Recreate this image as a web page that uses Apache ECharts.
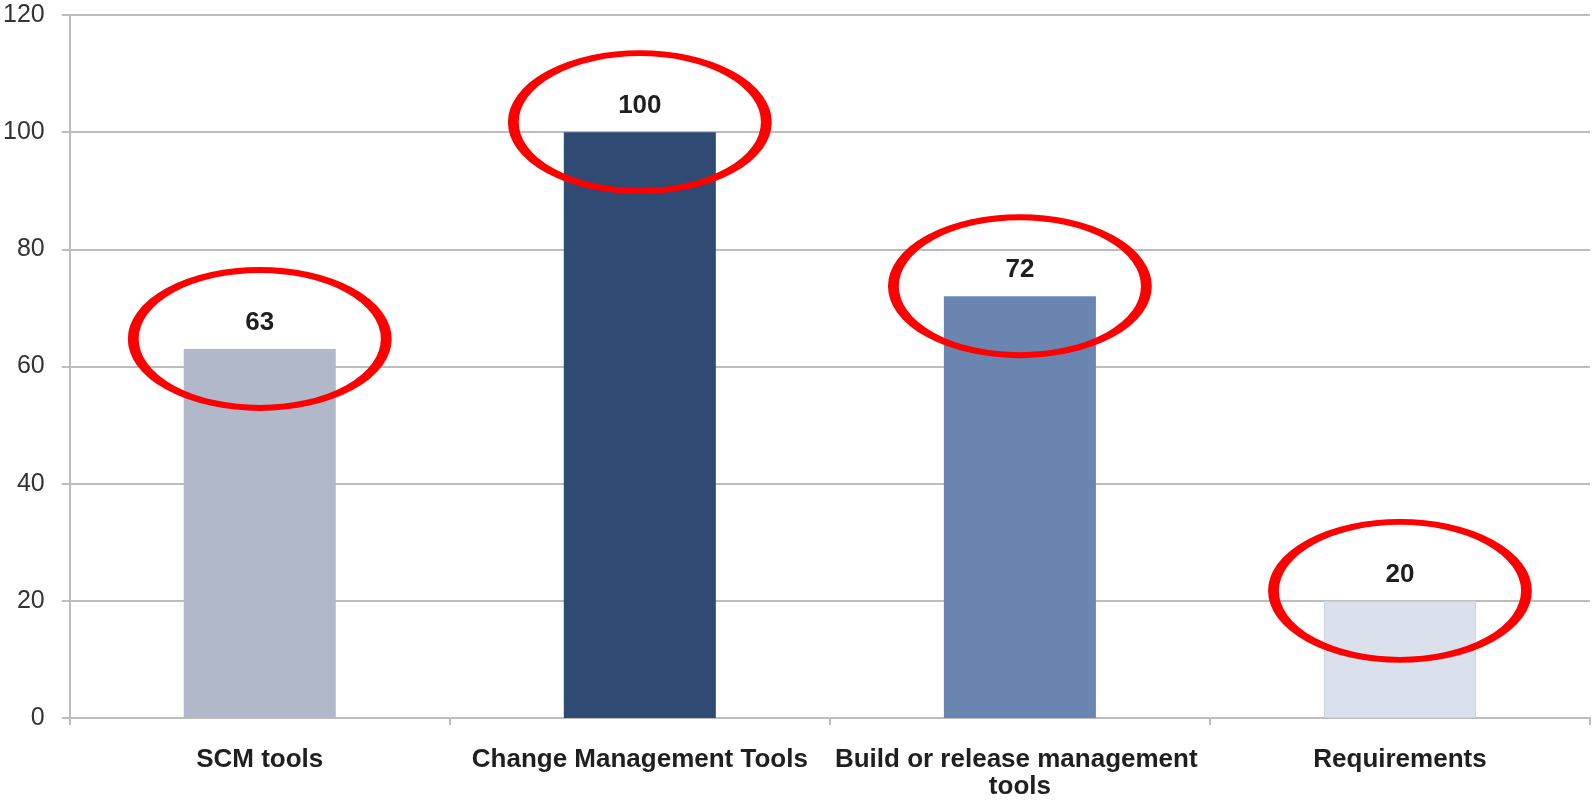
<!DOCTYPE html>
<html>
<head>
<meta charset="utf-8">
<script src="https://cdn.jsdelivr.net/npm/echarts@6/dist/echarts.min.js"></script>
<style>
  html, body { margin: 0; padding: 0; background: #fff; }
  #main { width: 1595px; height: 800px; }
</style>
</head>
<body>
<div id="main"></div>
<script>
// chart data
var categories = ['SCM tools', 'Change Management Tools', 'Build or release management tools', 'Requirements'];
var values = [63, 100, 72, 20];
var barColors = ['#B0B8C9', '#2F4A73', '#6A86B0', '#DAE0EC'];
var yTicks = [0, 20, 40, 60, 80, 100, 120];

var chart = echarts.init(document.getElementById('main'));

var barData = values.map(function (v, i) {
  return {
    value: v,
    itemStyle: {
      color: barColors[i],
      borderColor: i === 3 ? '#C9D3E3' : barColors[i],
      borderWidth: i === 3 ? 1 : 0
    }
  };
});

var option = {
  animation: false,
  textStyle: { fontFamily: '"Liberation Sans", Arial, sans-serif' },
  grid: { left: 69, right: 5, top: 15, bottom: 81 },
  xAxis: {
    type: 'category',
    data: categories,
    boundaryGap: true,
    axisLine: { lineStyle: { color: '#BDBDBD', width: 2 } },
    axisTick: { show: true, length: 7, lineStyle: { color: '#BDBDBD', width: 2 } },
    axisLabel: {
      interval: 0,
      margin: 28,
      fontSize: 26,
      fontWeight: 'bold',
      color: '#1F1F1F',
      lineHeight: 27,
      width: 378,
      overflow: 'break'
    }
  },
  yAxis: {
    type: 'value',
    min: yTicks[0],
    max: yTicks[yTicks.length - 1],
    interval: 20,
    axisLine: { show: true, lineStyle: { color: '#BDBDBD', width: 2 } },
    axisTick: { show: true, length: 8, lineStyle: { color: '#BDBDBD', width: 2 } },
    splitLine: { lineStyle: { color: '#BDBDBD', width: 2 } },
    axisLabel: { margin: 25, fontSize: 25, color: '#333333' }
  },
  series: [
    {
      type: 'bar',
      data: barData,
      barWidth: '40%',
      label: {
        show: true,
        position: 'top',
        distance: 13,
        fontSize: 26,
        fontWeight: 'bold',
        color: '#1F1F1F'
      }
    },
    {
      // red rings drawn round each value
      type: 'scatter',
      data: values,
      symbol: 'circle',
      symbolSize: [253, 138],
      symbolOffset: [0, -10],
      z: 5,
      silent: true,
      itemStyle: { color: 'rgba(0,0,0,0)', borderColor: '#FF0000', borderWidth: 8, opacity: 1 }
    }
  ]
};

chart.setOption(option);
</script>
</body>
</html>
